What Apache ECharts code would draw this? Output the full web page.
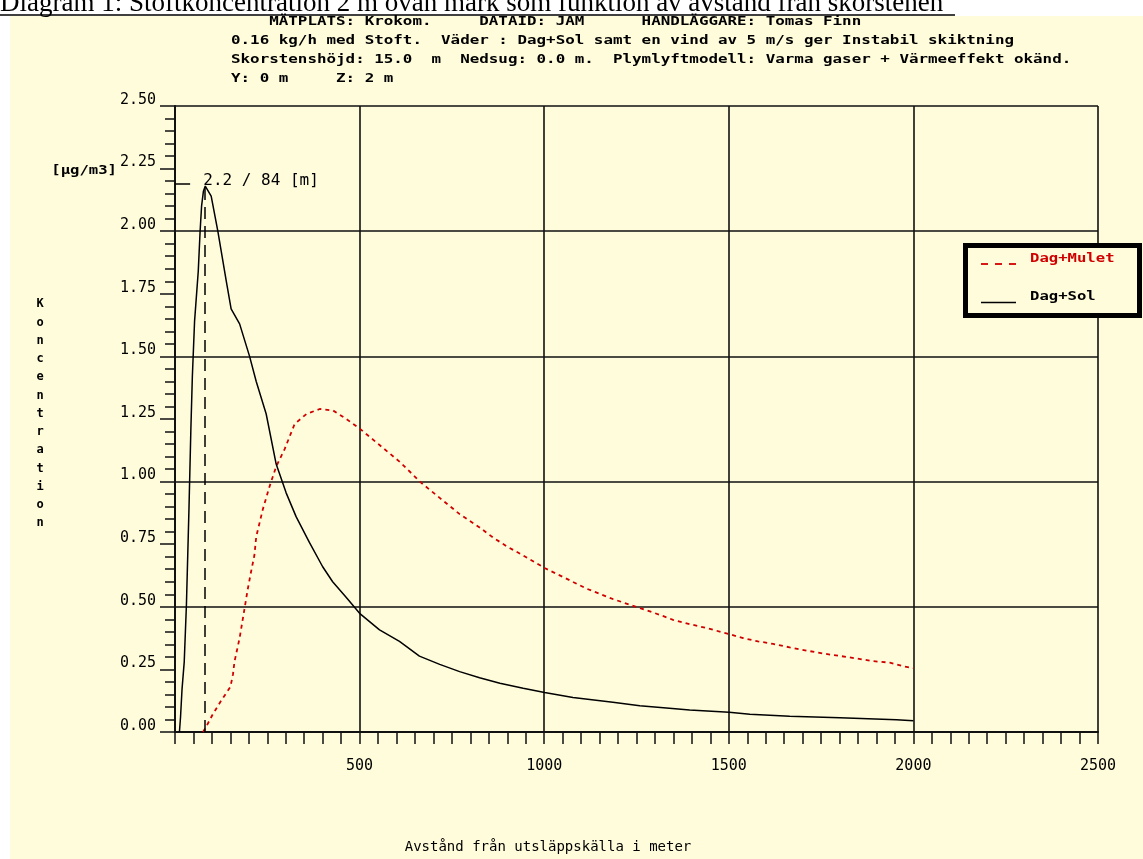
<!DOCTYPE html>
<html>
<head>
<meta charset="utf-8">
<script src="https://cdn.jsdelivr.net/npm/echarts@6/dist/echarts.min.js"></script>
<style>
html,body{margin:0;padding:0;background:#fff;}
#chart{width:1143px;height:859px;}
</style>
</head>
<body>
<div id="chart"></div>
<script>
// ---- data (distance in m, concentration in µg/m3) ----
const solDist = [12, 15, 19, 25, 31, 38, 43, 47, 53, 63, 68, 72, 77, 82, 86, 98, 116, 139, 152, 175, 202, 220, 247, 274, 301, 328, 364, 400, 427, 464, 500, 554, 608, 662, 717, 771, 825, 880, 943, 1001, 1078, 1186, 1259, 1331, 1394, 1501, 1557, 1665, 1801, 1954, 2000];
const solConc = [0, 0.06, 0.17, 0.28, 0.51, 0.90, 1.21, 1.42, 1.64, 1.84, 2.00, 2.10, 2.16, 2.18, 2.17, 2.14, 2.00, 1.80, 1.69, 1.63, 1.50, 1.40, 1.27, 1.07, 0.955, 0.86, 0.757, 0.66, 0.60, 0.537, 0.474, 0.408, 0.362, 0.303, 0.270, 0.241, 0.217, 0.195, 0.175, 0.158, 0.138, 0.119, 0.105, 0.096, 0.088, 0.079, 0.071, 0.063, 0.057, 0.049, 0.045];
const muletDist = [76, 84, 102, 125, 150, 157, 161, 175, 188, 197, 206, 215, 220, 238, 256, 274, 297, 324, 356, 392, 428, 464, 500, 554, 608, 667, 717, 771, 825, 861, 898, 943, 1001, 1051, 1114, 1186, 1241, 1313, 1349, 1394, 1440, 1501, 1539, 1579, 1620, 1665, 1711, 1774, 1819, 1891, 1936, 1977, 2000];
const muletConc = [0, 0.02, 0.07, 0.125, 0.18, 0.23, 0.28, 0.375, 0.49, 0.57, 0.64, 0.705, 0.78, 0.89, 0.98, 1.06, 1.13, 1.23, 1.27, 1.29, 1.284, 1.25, 1.212, 1.146, 1.080, 0.995, 0.935, 0.870, 0.817, 0.777, 0.742, 0.705, 0.655, 0.619, 0.573, 0.531, 0.504, 0.468, 0.448, 0.431, 0.415, 0.391, 0.375, 0.362, 0.352, 0.338, 0.325, 0.309, 0.300, 0.283, 0.277, 0.261, 0.255];
const seriesNames = ['Dag+Mulet', 'Dag+Sol'];
const peakDist = 80;
const peakConc = 2.18;
const peakLabel = '2.2 / 84 [m]';
const headerLines = [
  '    MÄTPLATS: Krokom.     DATAID: JAM      HANDLÄGGARE: Tomas Finn',
  '0.16 kg/h med Stoft.  Väder : Dag+Sol samt en vind av 5 m/s ger Instabil skiktning',
  'Skorstenshöjd: 15.0  m  Nedsug: 0.0 m.  Plymlyftmodell: Varma gaser + Värmeeffekt okänd.',
  'Y: 0 m     Z: 2 m'
];
const pageTitle = 'Diagram 1: Stoftkoncentration 2 m ovan mark som funktion av avstånd från skorstenen';
const yTitle = 'Koncentration';
const yUnit = '[µg/m3]';
const xTitle = 'Avstånd från utsläppskälla i meter';

const BG = '#fffcdc';
const RED = '#d00000';
const INK = '#111111';
const MONO = '"DejaVu Sans Mono", "Liberation Mono", monospace';

const solData = solDist.map((d, i) => [d, solConc[i]]);
const muletData = muletDist.map((d, i) => [d, muletConc[i]]);

const chart = echarts.init(document.getElementById('chart'), null, {renderer: 'canvas'});

const graphics = [
  {type: 'rect', z: -10, shape: {x: 10, y: 16, width: 1133, height: 843}, style: {fill: BG}, silent: true},
  {type: 'text', x: 0, y: -10, style: {text: pageTitle, font: '27px "Liberation Serif", "Times New Roman", serif', fill: '#000'}, silent: true},
  {type: 'line', shape: {x1: 0, y1: 15, x2: 955, y2: 15}, style: {stroke: '#000', lineWidth: 1.5}, silent: true}
];
headerLines.forEach((t, i) => {
  graphics.push({type: 'text', x: 231, y: 22 + i * 19, scaleX: 1.22, style: {text: t, font: 'bold 13px ' + MONO, fill: '#000', verticalAlign: 'middle'}, silent: true});
});
graphics.push({type: 'text', x: 40, y: 295, style: {text: yTitle.split('').join('\n'), font: 'bold 12px ' + MONO, lineHeight: 18.25, fill: '#000', align: 'center', verticalAlign: 'top'}, silent: true});
graphics.push({type: 'text', x: 117, y: 171, scaleX: 1.2, style: {text: yUnit, font: 'bold 13px ' + MONO, fill: '#000', align: 'right', verticalAlign: 'middle'}, silent: true});
// legend box
graphics.push({type: 'rect', z: 50, shape: {x: 965.5, y: 245.5, width: 174, height: 70}, style: {fill: BG, stroke: '#000', lineWidth: 5}, silent: true});
graphics.push({type: 'line', z: 51, shape: {x1: 981, y1: 264, x2: 1016, y2: 264}, style: {stroke: RED, lineWidth: 1.8, lineDash: [7, 7]}, silent: true});
graphics.push({type: 'text', z: 51, x: 1030, y: 259, scaleX: 1.2, style: {text: seriesNames[0], font: 'bold 13px ' + MONO, fill: RED, verticalAlign: 'middle'}, silent: true});
graphics.push({type: 'line', z: 51, shape: {x1: 981, y1: 302.5, x2: 1016, y2: 302.5}, style: {stroke: '#000', lineWidth: 1.5}, silent: true});
graphics.push({type: 'text', z: 51, x: 1030, y: 297, scaleX: 1.2, style: {text: seriesNames[1], font: 'bold 13px ' + MONO, fill: '#000', verticalAlign: 'middle'}, silent: true});

const option = {
  backgroundColor: '#ffffff',
  animation: false,
  textStyle: {fontFamily: MONO},
  graphic: graphics,
  grid: {left: 175, top: 106, width: 923, height: 632, containLabel: false},
  xAxis: [{
    type: 'value', min: 0, max: 2500, interval: 500,
    name: xTitle, nameLocation: 'middle', nameGap: 108,
    nameTextStyle: {fontFamily: MONO, fontSize: 14, color: '#000', padding: [0, 177, 0, 0]},
    axisLine: {show: true, lineStyle: {color: INK, width: 2}},
    axisTick: {show: true, length: 12, lineStyle: {color: INK, width: 1.5}},
    minorTick: {show: true, splitNumber: 10, length: 12, lineStyle: {color: INK, width: 1.5}},
    axisLabel: {margin: 27, fontFamily: MONO, fontSize: 15, color: '#000', formatter: v => v === 0 ? '' : String(v)},
    splitLine: {show: true, lineStyle: {color: INK, width: 1.6}}
  }],
  yAxis: [{
    type: 'value', min: 0, max: 2.5, interval: 0.25,
    axisLine: {show: true, lineStyle: {color: INK, width: 2}},
    axisTick: {show: true, length: 15, lineStyle: {color: INK, width: 1.5}},
    minorTick: {show: true, splitNumber: 5, length: 10, lineStyle: {color: INK, width: 1.5}},
    axisLabel: {margin: 19, fontFamily: MONO, fontSize: 15, color: '#000', verticalAlign: 'bottom', lineHeight: 12, formatter: v => v.toFixed(2)},
    splitLine: {show: false}
  }, {
    type: 'value', min: 0, max: 2.5, interval: 0.5, position: 'left',
    axisLine: {show: false}, axisTick: {show: false}, axisLabel: {show: false},
    splitLine: {show: true, lineStyle: {color: INK, width: 1.6}}
  }],
  series: [{
    name: seriesNames[0], type: 'line', data: muletData, symbol: 'none', smooth: false,
    lineStyle: {color: RED, width: 1.8, type: [4, 4]}, itemStyle: {color: RED}, z: 3
  }, {
    name: seriesNames[1], type: 'line', data: solData, symbol: 'none', smooth: false,
    lineStyle: {color: '#000', width: 1.5, type: 'solid'}, itemStyle: {color: '#000'}, z: 4,
    markLine: {
      silent: true, symbol: ['none', 'none'], label: {show: false},
      lineStyle: {color: '#000', width: 1.5, type: [12, 7]},
      data: [
        [{coord: [peakDist, 0]}, {coord: [peakDist, peakConc]}],
        [{coord: [0, peakConc + 0.01], lineStyle: {type: 'solid', color: '#000', width: 1.5}}, {coord: [41, peakConc + 0.01]}]
      ]
    },
    markPoint: {
      silent: true, symbol: 'circle', symbolSize: 0,
      label: {show: true, position: 'right', distance: 5, color: '#000', fontFamily: MONO, fontSize: 16, formatter: peakLabel},
      data: [{coord: [63, 2.2]}]
    }
  }]
};
chart.setOption(option);
</script>
</body>
</html>
